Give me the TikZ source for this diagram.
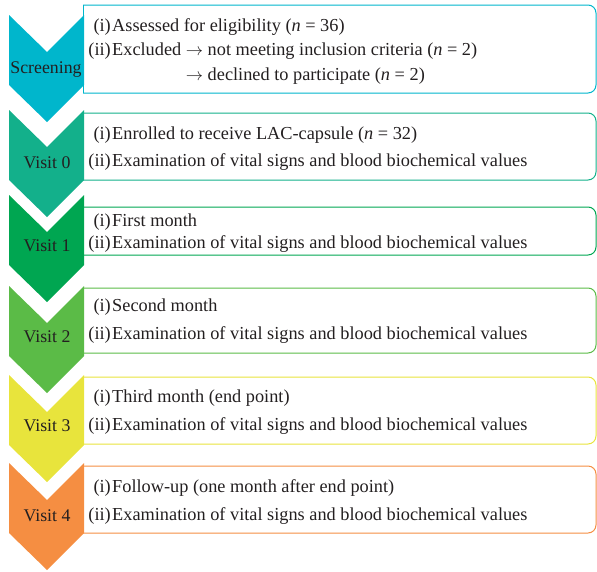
\documentclass[tikz,border=0pt]{standalone}
\usepackage{fontspec}
\setmainfont{Liberation Serif}
\usepackage{xcolor}

\definecolor{scrcol}{HTML}{00B6CC}
\definecolor{vzerocol}{HTML}{13B08B}
\definecolor{vonecol}{HTML}{00A651}
\definecolor{vtwocol}{HTML}{5BBB47}
\definecolor{vthreecol}{HTML}{E8E43C}
\definecolor{vfourcol}{HTML}{F58E42}
\definecolor{txtcol}{HTML}{231F20}

\newcommand{\toarrow}{$\rightarrow$}

\begin{document}
\begin{tikzpicture}[
	x=1pt, y=-1pt,
	every node/.style={font=\fontsize{18.3}{22}\selectfont, text=txtcol, inner sep=0pt},
	num/.style={anchor=base east},
	item/.style={anchor=base west},
	stage/.style={anchor=base, font=\fontsize{17.8}{22}\selectfont},
	frame/.style={line width=1pt, rounded corners=8pt},
	edge/.style={line width=1pt}
]
\useasboundingbox (0,0) rectangle (597,571);

% boxes
\draw[frame, scrcol] (83,5) -- (596,5) -- (596,93) -- (83,93);
\draw[edge, scrcol] (83,5) -- (83,93);
\draw[frame, vzerocol] (83,113) -- (596,113) -- (596,180) -- (83,180);
\draw[frame, vonecol] (83,207) -- (596,207) -- (596,255) -- (83,255);
\draw[frame, vtwocol] (83,288) -- (596,288) -- (596,353) -- (83,353);
\draw[frame, vthreecol] (83,377) -- (596,377) -- (596,444) -- (83,444);
\draw[frame, vfourcol] (83,466) -- (596,466) -- (596,533) -- (83,533);

% chevrons
\fill[scrcol] (9,15) -- ++(38,37) -- ++(37,-37) -- ++(0,70) -- ++(-37,37) -- ++(-38,-37) -- cycle;
\fill[vzerocol] (9,110) -- ++(38,37) -- ++(37,-37) -- ++(0,70) -- ++(-37,37) -- ++(-38,-37) -- cycle;
\fill[vonecol] (9,195) -- ++(38,37) -- ++(37,-37) -- ++(0,70) -- ++(-37,37) -- ++(-38,-37) -- cycle;
\fill[vtwocol] (9,286) -- ++(38,37) -- ++(37,-37) -- ++(0,70) -- ++(-37,37) -- ++(-38,-37) -- cycle;
\fill[vthreecol] (9,375) -- ++(38,37) -- ++(37,-37) -- ++(0,70) -- ++(-37,37) -- ++(-38,-37) -- cycle;
\fill[vfourcol] (9,463) -- ++(38,37) -- ++(37,-37) -- ++(0,70) -- ++(-37,37) -- ++(-38,-37) -- cycle;

% stage names
\node[stage] (scr) at (46,73) {Screening};
\node[stage] (vzero) at (47,168) {Visit 0};
\node[stage] (vone) at (47,251) {Visit 1};
\node[stage] (vtwo) at (47,342) {Visit 2};
\node[stage] (vthree) at (47,431) {Visit 3};
\node[stage] (vfour) at (47,521) {Visit 4};

% box texts
\node[num] (scrAn) at (111,31) {(i)};
\node[item] (scrA) at (112,31) {Assessed for eligibility (\textit{n} = 36)};
\node[num] (scrBn) at (111,55) {(ii)};
\node[item] (scrB) at (112,55) {Excluded \toarrow{} not meeting inclusion criteria (\textit{n} = 2)};
\node[item] (scrC) at (112,80) {\phantom{Excluded }\toarrow{} declined to participate (\textit{n} = 2)};

\node[num] (vzeroAn) at (111,139) {(i)};
\node[item] (vzeroA) at (112,139) {Enrolled to receive LAC-capsule (\textit{n} = 32)};
\node[num] (vzeroBn) at (111,166) {(ii)};
\node[item] (vzeroB) at (112,166) {Examination of vital signs and blood biochemical values};

\node[num] (voneAn) at (111,226) {(i)};
\node[item] (voneA) at (112,226) {First month};
\node[num] (voneBn) at (111,248) {(ii)};
\node[item] (voneB) at (112,248) {Examination of vital signs and blood biochemical values};

\node[num] (vtwoAn) at (111,311) {(i)};
\node[item] (vtwoA) at (112,311) {Second month};
\node[num] (vtwoBn) at (111,339) {(ii)};
\node[item] (vtwoB) at (112,339) {Examination of vital signs and blood biochemical values};

\node[num] (vthreeAn) at (111,402) {(i)};
\node[item] (vthreeA) at (112,402) {Third month (end point)};
\node[num] (vthreeBn) at (111,430) {(ii)};
\node[item] (vthreeB) at (112,430) {Examination of vital signs and blood biochemical values};

\node[num] (vfourAn) at (111,492) {(i)};
\node[item] (vfourA) at (112,492) {Follow-up (one month after end point)};
\node[num] (vfourBn) at (111,520) {(ii)};
\node[item] (vfourB) at (112,520) {Examination of vital signs and blood biochemical values};
\end{tikzpicture}
\end{document}
